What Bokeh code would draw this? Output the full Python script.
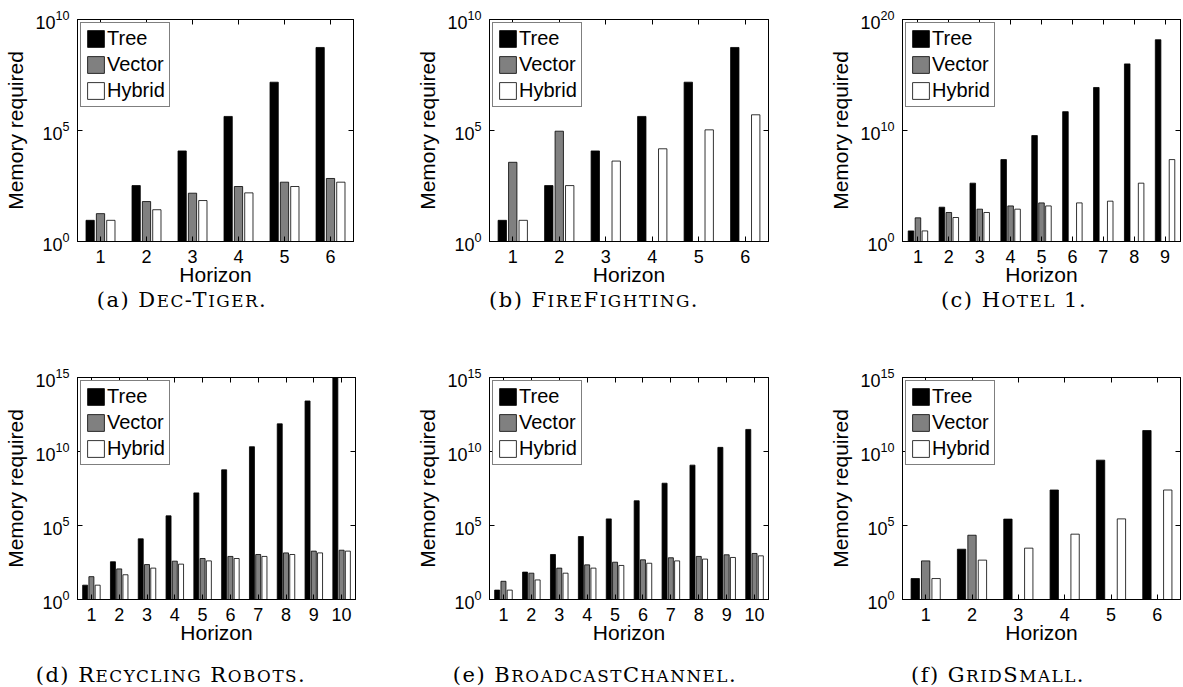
from bokeh.plotting import figure
from bokeh.models import (FixedTicker, LinearAxis, Legend, LegendItem,
                          Div, ColumnDataSource, Range1d)
from bokeh.layouts import column, row
from bokeh.embed import file_html
from bokeh.resources import INLINE
import numpy as np

NaN = float("nan")

# ---------------- data ----------------
caption_tags = ["(a)", "(b)", "(c)", "(d)", "(e)", "(f)"]
caption_names = ["Dec-Tiger", "FireFighting", "Hotel 1",
                 "Recycling Robots", "BroadcastChannel", "GridSmall"]
series_names = ["Tree", "Vector", "Hybrid"]

horizons_a = [1, 2, 3, 4, 5, 6]
tree_a = [9, 330, 1.2e4, 4.3e5, 1.5e7, 5.5e8]
vector_a = [18, 63, 150, 300, 470, 690]
hybrid_a = [9, 27, 70, 155, 300, 470]

horizons_b = [1, 2, 3, 4, 5, 6]
tree_b = [9, 330, 1.2e4, 4.3e5, 1.5e7, 5.5e8]
vector_b = [3700, 9.3e4, NaN, NaN, NaN, NaN]
hybrid_b = [9, 330, 4200, 1.5e4, 1.07e5, 5.1e5]

horizons_c = [1, 2, 3, 4, 5, 6, 7, 8, 9]
tree_c = [9, 1230, 1.8e5, 2.4e7, 3.5e9, 5e11, 7.5e13, 1e16, 1.5e18]
vector_c = [135, 410, 820, 1600, 3000, NaN, NaN, NaN, NaN]
hybrid_c = [9, 145, 410, 820, 1600, 3000, 4300, 1.8e5, 2.4e7]

horizons_d = [1, 2, 3, 4, 5, 6, 7, 8, 9, 10]
tree_d = [9.3, 355, 1.26e4, 4.5e5, 1.6e7, 5.8e8, 2.1e10, 7.4e11, 2.6e13, 9.3e14]
vector_d = [35, 117, 229, 389, 589, 813, 1100, 1410, 1860, 2140]
hybrid_d = [9.3, 47, 132, 245, 407, 589, 813, 1100, 1410, 1860]

horizons_e = [1, 2, 3, 4, 5, 6, 7, 8, 9, 10]
tree_e = [4.3, 71, 1100, 1.8e4, 2.8e5, 4.7e6, 7.2e7, 1.2e9, 1.9e10, 3.1e11]
vector_e = [17, 60, 132, 219, 331, 479, 661, 813, 1050, 1290]
hybrid_e = [4.3, 21, 60, 132, 200, 282, 407, 537, 692, 891]

horizons_f = [1, 2, 3, 4, 5, 6]
tree_f = [26, 2500, 2.7e5, 2.5e7, 2.6e9, 2.6e11]
vector_f = [407, 2.2e4, NaN, NaN, NaN, NaN]
hybrid_f = [26, 457, 2950, 2.6e4, 2.8e5, 2.5e7]

yticks_10 = [1, 1e5, 1e10]
yticks_20 = [1, 1e10, 1e20]
yticks_15 = [1, 1e5, 1e10, 1e15]

# ---------------- styling ----------------
SANS = "Liberation Sans"
SERIF = "DejaVu Serif"
colors = ["#000000", "#808080", "#ffffff"]
offsets = [-0.225, 0.0, 0.225]
bar_w = 0.18


def make_panel(horizons, tree, vector, hybrid, ymax, yticks,
               width, height, bl, br, bt, bb):
    n = len(horizons)
    p = figure(width=width, height=height, y_axis_type="log",
               x_range=Range1d(0.5, n + 0.5), y_range=Range1d(1, ymax),
               output_backend="svg", toolbar_location=None,
               min_border_left=bl, min_border_right=br,
               min_border_top=bt, min_border_bottom=bb)
    p.grid.visible = False
    p.outline_line_color = "black"
    p.outline_line_width = 1
    p.background_fill_color = "white"
    p.border_fill_color = "white"

    x = np.array(horizons, dtype=float)
    src = ColumnDataSource(dict(
        x0=x + offsets[0], x1=x + offsets[1], x2=x + offsets[2],
        tree=tree, vector=vector, hybrid=hybrid))
    rends = []
    for i, key in enumerate(["tree", "vector", "hybrid"]):
        r = p.vbar(x="x%d" % i, top=key, bottom=1, width=bar_w, source=src,
                   fill_color=colors[i], line_color="black", line_width=0.8)
        rends.append(r)

    # bottom axis
    xa = p.xaxis[0]
    xa.ticker = FixedTicker(ticks=horizons, minor_ticks=[])
    xa.major_tick_in = 5
    xa.major_tick_out = 0
    xa.minor_tick_in = 0
    xa.minor_tick_out = 0
    xa.major_label_standoff = 8
    xa.major_label_text_font = SANS
    xa.major_label_text_font_size = "18px"
    xa.major_label_text_color = "black"
    xa.axis_label = "Horizon"
    xa.axis_label_text_font = SANS
    xa.axis_label_text_font_size = "21px"
    xa.axis_label_text_font_style = "normal"
    xa.axis_label_text_color = "black"
    xa.axis_label_standoff = -3
    xa.axis_line_color = "black"

    # left axis
    ya = p.yaxis[0]
    ya.ticker = FixedTicker(ticks=yticks, minor_ticks=[])
    ya.major_tick_in = 5
    ya.major_tick_out = 0
    ya.minor_tick_in = 0
    ya.minor_tick_out = 0
    ya.major_label_standoff = 8
    ya.major_label_text_font = SANS
    ya.major_label_text_font_size = "18px"
    ya.major_label_text_color = "black"
    ya.axis_label = "Memory required"
    ya.axis_label_text_font = SANS
    ya.axis_label_text_font_size = "21px"
    ya.axis_label_text_font_style = "normal"
    ya.axis_label_text_color = "black"
    ya.axis_label_standoff = 5
    ya.axis_line_color = "black"

    # top & right box ticks (labels invisible)
    top = LinearAxis(ticker=FixedTicker(ticks=horizons, minor_ticks=[]),
                     major_label_text_font_size="1px", major_label_text_alpha=0,
                     major_label_standoff=0,
                     major_tick_in=5, major_tick_out=0,
                     minor_tick_in=0, minor_tick_out=0, axis_line_color="black")
    p.add_layout(top, "above")
    right = LinearAxis(ticker=FixedTicker(ticks=yticks, minor_ticks=[]),
                       major_label_text_font_size="1px", major_label_text_alpha=0,
                       major_label_standoff=0,
                       major_tick_in=5, major_tick_out=0,
                       minor_tick_in=0, minor_tick_out=0, axis_line_color="black")
    p.add_layout(right, "right")

    legend = Legend(items=[LegendItem(label=series_names[i], renderers=[rends[i]])
                           for i in range(3)],
                    location="top_left", margin=3, padding=4, spacing=3,
                    glyph_width=21, glyph_height=21, label_height=21,
                    label_standoff=1, label_text_font=SANS,
                    label_text_font_size="20px", label_text_color="black",
                    border_line_color="black", border_line_width=1.5,
                    background_fill_color="white", background_fill_alpha=1)
    p.add_layout(legend)
    return p


def small_caps(name):
    out = []
    for ch in name:
        if ch.islower():
            out.append('<span style="font-size:0.8em;">%s</span>' % ch.upper())
        else:
            out.append(ch)
    return "".join(out)


def caption(tag, name, width, height, line_h, center_in_div):
    html = ('<div style="width:%dpx;height:%dpx;position:relative;overflow:hidden;">'
            '<div style="position:absolute;left:%dpx;width:400px;top:0;'
            'line-height:%dpx;text-align:center;font-family:\'%s\';'
            'font-size:21px;letter-spacing:1.5px;color:black;white-space:nowrap;">'
            '%s %s.</div></div>') % (width, height, center_in_div - 200, line_h,
                                     SERIF, tag, small_caps(name))
    return Div(text=html, width=width, height=height, margin=(0, 0, 0, 0))


# page layout (page has no margin): columns start at x = 0, 398, 788
W = [398, 390, 395]
LEFT = [0, 398, 788]
BL = [77, 91, 114]
BR_TOP = [45, 20, 3]
BR_BOT = [43, 20, 3]
H_TOP, BT_TOP, BB_TOP = 288, 19, 47
H_BOT, BT_BOT, BB_BOT = 350, 64, 64
CAP_TOP_H, CAP_TOP_LH = 25, 25
CAP_BOT_H, CAP_BOT_LH = 24, 24
cap_centers = [182, 594, 1014, 171, 595, 998]

pa = make_panel(horizons_a, tree_a, vector_a, hybrid_a, 1e10, yticks_10,
                W[0], H_TOP, BL[0], BR_TOP[0], BT_TOP, BB_TOP)
pb = make_panel(horizons_b, tree_b, vector_b, hybrid_b, 1e10, yticks_10,
                W[1], H_TOP, BL[1], BR_TOP[1], BT_TOP, BB_TOP)
pc = make_panel(horizons_c, tree_c, vector_c, hybrid_c, 1e20, yticks_20,
                W[2], H_TOP, BL[2], BR_TOP[2], BT_TOP, BB_TOP)
pd = make_panel(horizons_d, tree_d, vector_d, hybrid_d, 1e15, yticks_15,
                W[0], H_BOT, BL[0], BR_BOT[0], BT_BOT, BB_BOT)
pe = make_panel(horizons_e, tree_e, vector_e, hybrid_e, 1e15, yticks_15,
                W[1], H_BOT, BL[1], BR_BOT[1], BT_BOT, BB_BOT)
pf = make_panel(horizons_f, tree_f, vector_f, hybrid_f, 1e15, yticks_15,
                W[2], H_BOT, BL[2], BR_BOT[2], BT_BOT, BB_BOT)

caps_top = [caption(caption_tags[i], caption_names[i], W[i], CAP_TOP_H, CAP_TOP_LH,
                    cap_centers[i] - LEFT[i]) for i in range(3)]
caps_bot = [caption(caption_tags[3 + i], caption_names[3 + i], W[i], CAP_BOT_H,
                    CAP_BOT_LH, cap_centers[3 + i] - LEFT[i]) for i in range(3)]

layout = column(row(pa, pb, pc, spacing=0),
                row(*caps_top, spacing=0),
                row(pd, pe, pf, spacing=0),
                row(*caps_bot, spacing=0),
                spacing=0)

open("out.html", "w").write(file_html(layout, INLINE))
